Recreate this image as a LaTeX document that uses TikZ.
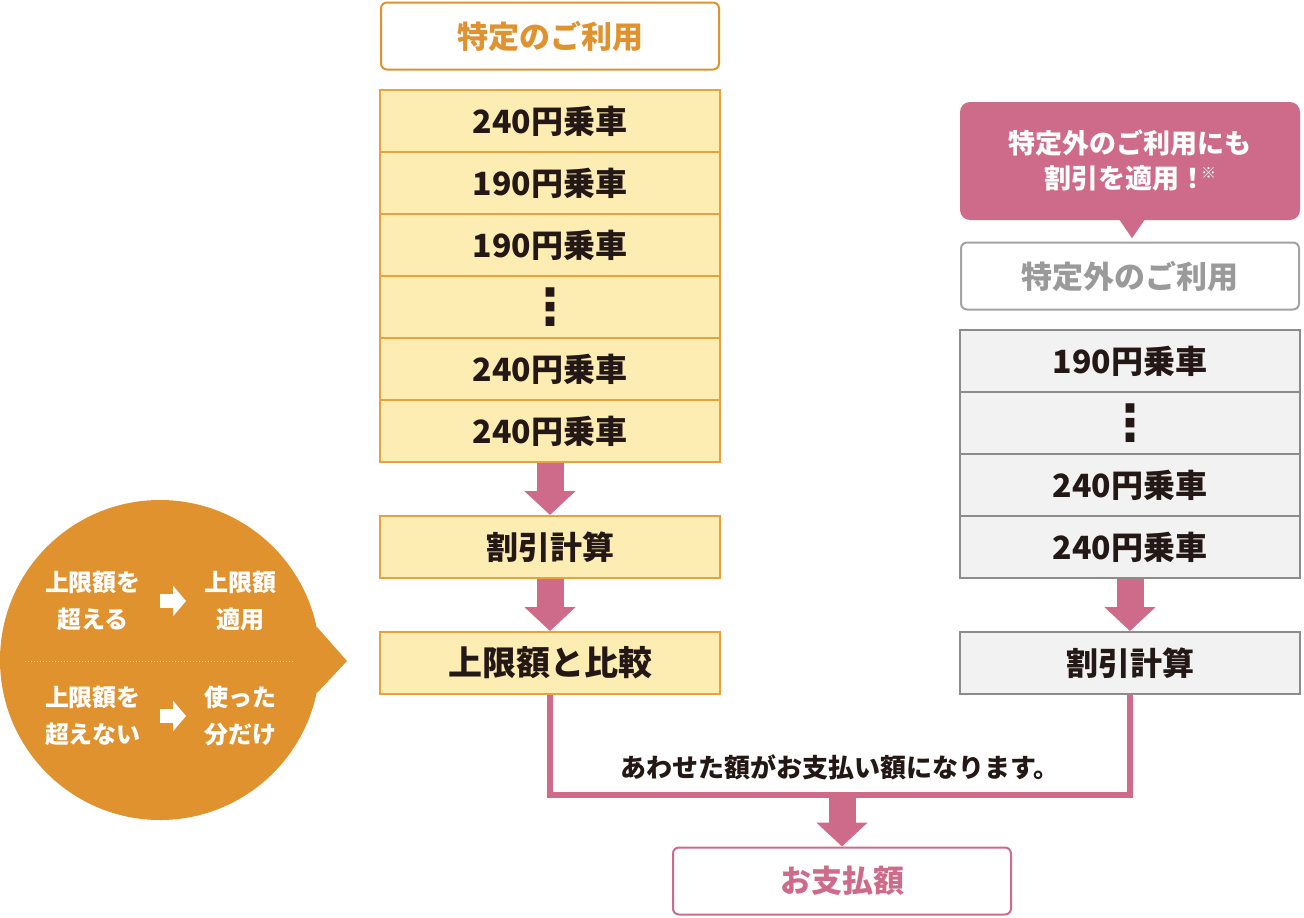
\documentclass[tikz,border=0pt]{standalone}
\usepackage{fontspec}
\setmainfont{Noto Sans CJK JP}
\newfontfamily\symfont{DejaVu Sans}
\usetikzlibrary{arrows.meta,positioning,calc}
\definecolor{useOrange}{HTML}{E0922F}
\definecolor{useYellow}{HTML}{FEEDB2}
\definecolor{useBorder}{HTML}{E8A13C}
\definecolor{payPink}{HTML}{CE6B8B}
\definecolor{otherFill}{HTML}{F2F2F2}
\definecolor{otherLine}{HTML}{8C8C8C}
\definecolor{otherText}{HTML}{9A9A9A}
\definecolor{inkDark}{HTML}{231815}
\definecolor{noteDots}{HTML}{F6C98E}
\newcommand{\vdotsmark}{{\symfont\fontsize{50}{50}\selectfont ⋮}}
\tikzset{
    headBox/.style={
        rectangle,
        draw,
        fill=white,
        rounded corners=6pt,
        line width=2pt,
        minimum width=338pt,
        minimum height=67pt,
        inner sep=0pt,
        font=\fontsize{31}{36}\selectfont\bfseries
    },
    % stacked rows
    useRow/.style={
        rectangle, draw=useBorder, fill=useYellow, line width=2pt,
        minimum width=340pt, minimum height=62pt, inner sep=0pt,
        text=inkDark, font=\fontsize{32}{36}\selectfont\bfseries
    },
    otherRow/.style={useRow, draw=otherLine, fill=otherFill},
    % arrows
    fatArrow/.style={draw=payPink, line width=27pt, -{Triangle[length=24pt,width=50pt]}},
    noteArrow/.style={draw=white, line width=14pt, -{Triangle[length=13pt,width=30pt]}},
    noteText/.style={text=white, align=center, font=\fontsize{24}{37}\selectfont\bfseries}
}
\begin{document}
\begin{tikzpicture}[x=1pt, y=-1pt]
\useasboundingbox (0,0) rectangle (1304,918);

% left column
\node[headBox, draw=useOrange, text=useOrange] (use) at (550,36) {特定のご利用};
\foreach \t [count=\i] in {240円乗車,190円乗車,190円乗車,\vdotsmark,240円乗車,240円乗車}
    \node[useRow] (u\i) at (550,{121+62*(\i-1)}) {\t};
\node[useRow] (calcA) at (550,547) {割引計算};
\node[useRow, font=\fontsize{34}{36}\selectfont\bfseries] (cmp) at (550,663) {上限額と比較};

\draw[fatArrow] (u6.south) -- (calcA.north);
\draw[fatArrow] (calcA.south) -- (cmp.north);

% right column
\node[rectangle, fill=payPink, rounded corners=10pt, minimum width=340pt, minimum height=118pt,
      align=center, text=white, font=\fontsize{27}{35}\selectfont\bfseries] (tip) at (1130,161)
      {特定外のご利用にも\\割引を適用！\kern-5pt\raisebox{10pt}{\fontsize{15}{15}\selectfont ※}};
\fill[payPink] ($(tip.south)+(-11,-1)$) -- ($(tip.south)+(2,18)$) -- ($(tip.south)+(15,-1)$) -- cycle;
\node[headBox, draw=otherLine!80, text=otherText] (other) at (1130,276) {特定外のご利用};
\foreach \t [count=\i] in {190円乗車,\vdotsmark,240円乗車,240円乗車}
    \node[otherRow] (g\i) at (1130,{361+62*(\i-1)}) {\t};
\node[otherRow] (calcB) at (1130,663) {割引計算};

\draw[fatArrow] (g4.south) -- (calcB.north);

% joining line
\coordinate (join) at (842,795);
\draw[payPink, line width=6pt] (cmp.south) |- (join) -| (calcB.south);
\node[text=inkDark, font=\fontsize{26}{28}\selectfont\bfseries] (sum) at (840,767) {あわせた額がお支払い額になります。};
\node[headBox, draw=payPink, text=payPink] (pay) at (842,881) {お支払額};
\draw[fatArrow] (join) -- (pay.north);

% balloon
\node[circle, fill=useOrange, minimum size=320pt, inner sep=0pt] (note) at (160,660) {};
\fill[useOrange] (note.12) -- (347,661) -- (note.-12) -- cycle;
\draw[noteDots, line width=1pt, dotted] (25,661) -- (295,661);
\node[noteText] (over) at (93,601) {上限額を\\超える};
\node[noteText] (cap) at (240,601) {上限額\\適用};
\node[noteText] (under) at (93,716) {上限額を\\超えない};
\node[noteText] (used) at (240,716) {使った\\分だけ};
\draw[noteArrow, shorten <=67pt, shorten >=54pt] (over.center) -- (cap.center);
\draw[noteArrow, shorten <=67pt, shorten >=54pt] (under.center) -- (used.center);
\end{tikzpicture}
\end{document}
